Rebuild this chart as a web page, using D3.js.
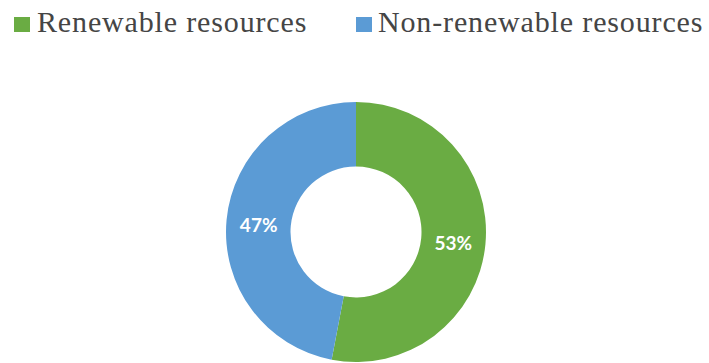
<!DOCTYPE html>
<html>
<head>
<meta charset="utf-8">
<script src="https://cdn.jsdelivr.net/npm/d3@7/dist/d3.min.js"></script>
<style>
  html, body { margin: 0; padding: 0; background: #ffffff; }
  svg { display: block; }
</style>
</head>
<body>
<svg id="chart" width="709" height="363"></svg>
<script>
// Share of resources, in percent
const categories = ["Renewable resources", "Non-renewable resources"];
const values = [53, 47];
const colors = ["#6aac43", "#5b9bd5"];

const svg = d3.select("#chart");

// Legend along the top
const legendItems = [
  { x: 14, textX: 37 },
  { x: 356, textX: 378 }
];
const legend = svg.append("g").attr("class", "legend");
categories.forEach((c, i) => {
  const g = legend.append("g");
  g.append("rect")
    .attr("x", legendItems[i].x).attr("y", 17)
    .attr("width", 16).attr("height", 15)
    .attr("fill", colors[i]);
  g.append("text")
    .attr("x", legendItems[i].textX).attr("y", 32)
    .attr("font-family", "'Liberation Serif', 'Times New Roman', serif")
    .attr("font-size", 30)
    .attr("letter-spacing", "0.85px")
    .attr("fill", "#454545")
    .text(c);
});

// Doughnut
const cx = 356, cy = 232;
const outerR = 130, innerR = 65.5;

const pie = d3.pie().sort(null).value(d => d);
const arc = d3.arc().innerRadius(innerR).outerRadius(outerR);
const labelArc = d3.arc().innerRadius((innerR + outerR) / 2).outerRadius((innerR + outerR) / 2);

const arcs = pie(values);
const g = svg.append("g").attr("transform", `translate(${cx},${cy})`);

g.selectAll("path.slice")
  .data(arcs)
  .join("path")
  .attr("class", "slice")
  .attr("d", arc)
  .attr("fill", (d, i) => colors[i]);

g.selectAll("text.value")
  .data(arcs)
  .join("text")
  .attr("class", "value")
  .attr("transform", d => {
    const [x, y] = labelArc.centroid(d);
    return `translate(${x},${y + 2})`;
  })
  .attr("text-anchor", "middle")
  .attr("dy", "0.36em")
  .attr("font-family", "Lato, 'Open Sans', sans-serif")
  .attr("font-weight", "bold")
  .attr("font-size", 19)
  .attr("fill", "#ffffff")
  .text(d => d.data + "%");
</script>
</body>
</html>
